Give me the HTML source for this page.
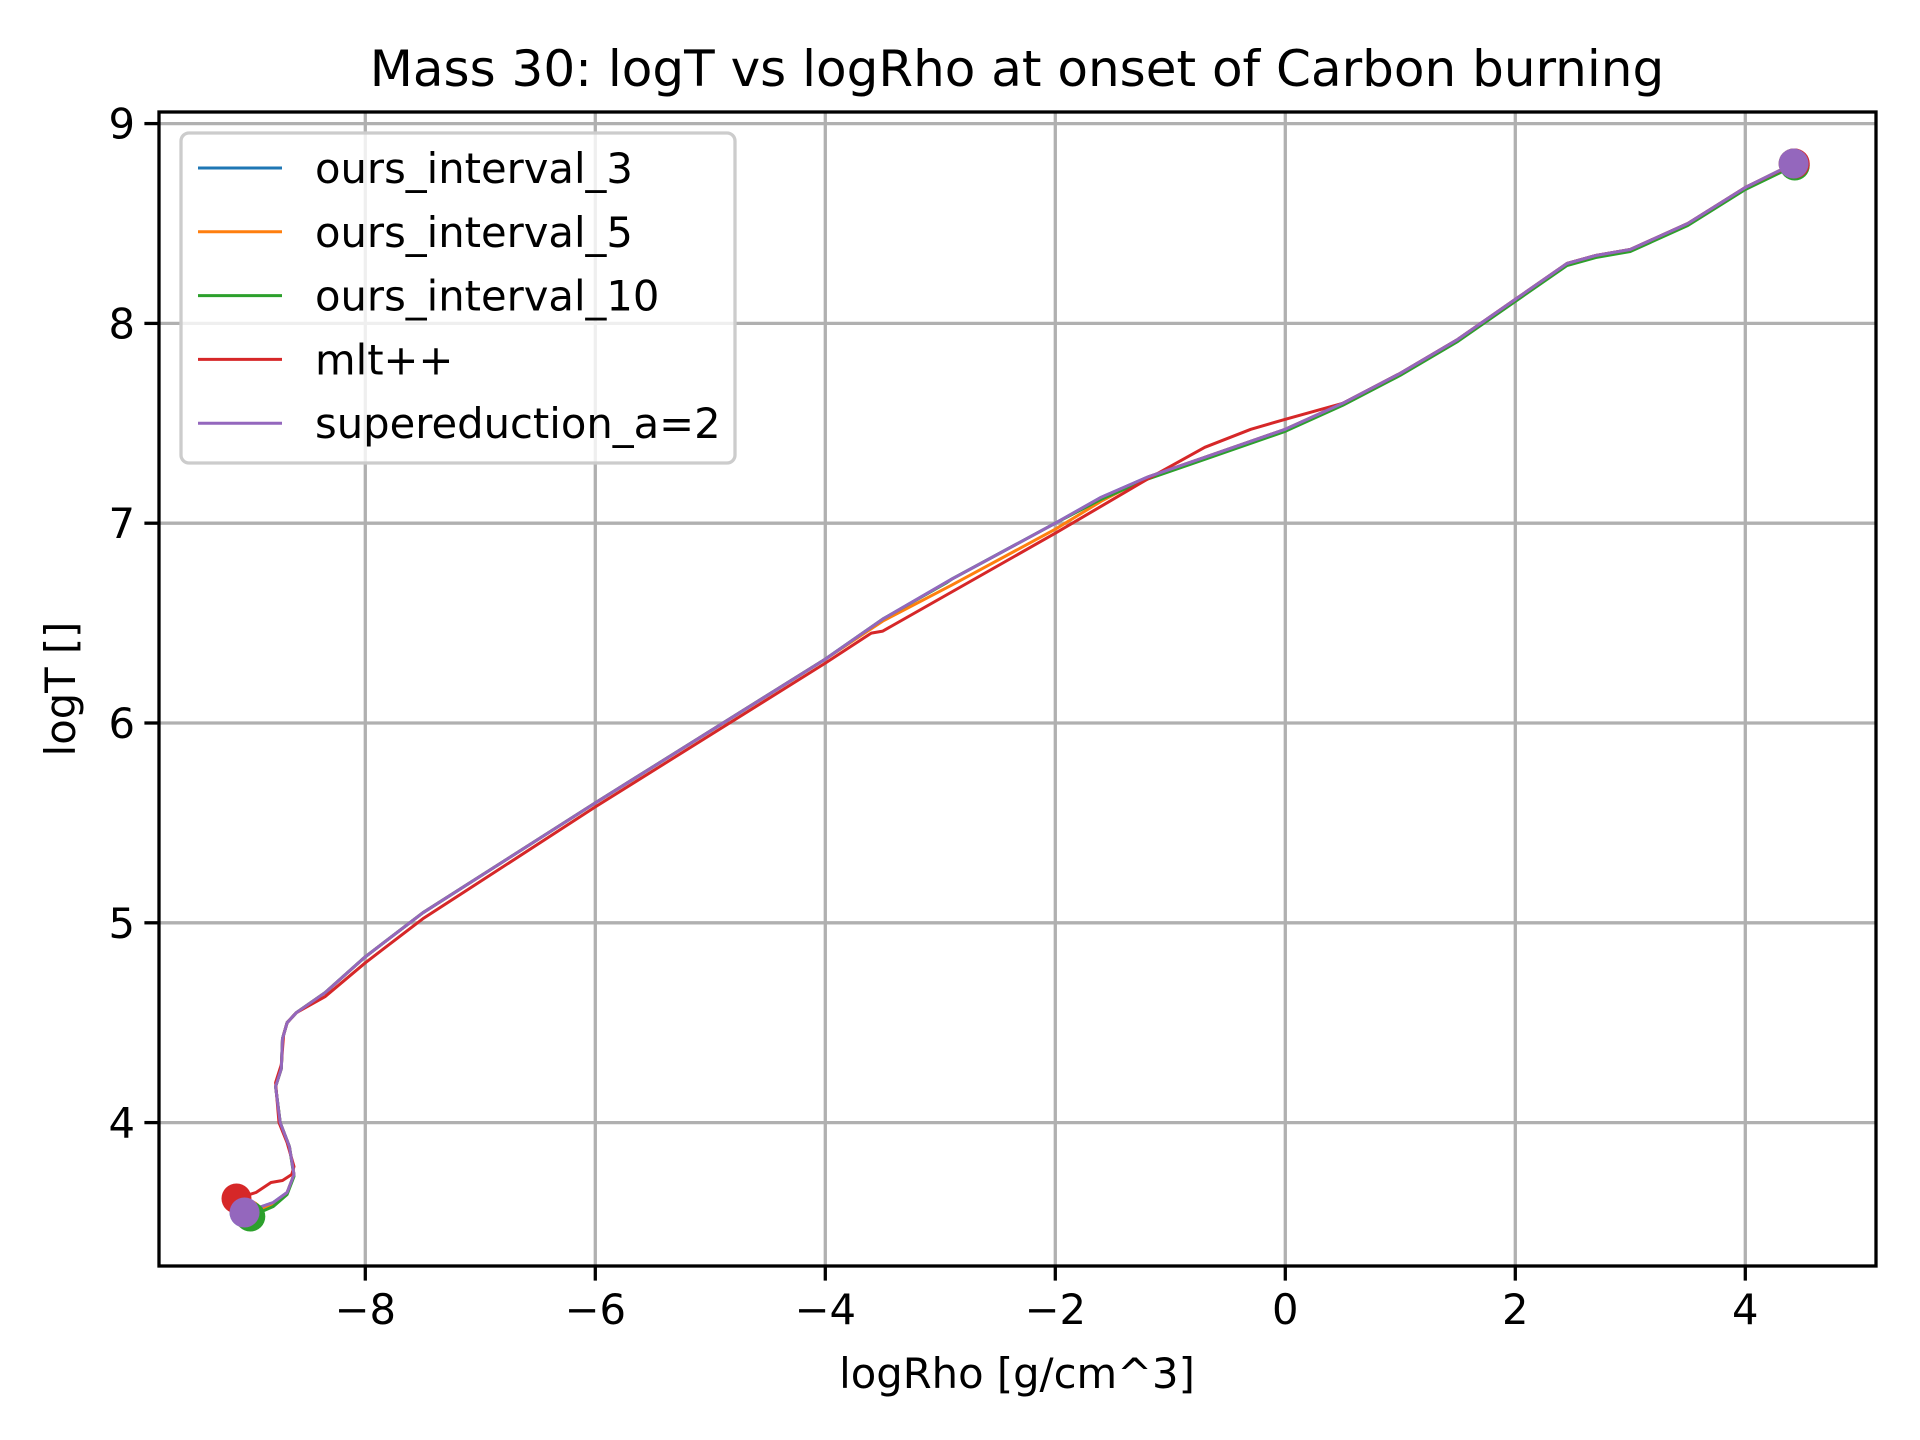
<!DOCTYPE html>
<html><head><meta charset="utf-8">
<style>
html,body{margin:0;padding:0;background:#fff;}
svg{display:block;}
text{font-family:"DejaVu Sans","Liberation Sans",sans-serif;fill:#000;}
</style></head>
<body>
<svg id="chart" width="1920" height="1440" viewBox="0 0 1920 1440" xmlns="http://www.w3.org/2000/svg">
<rect width="1920" height="1440" fill="#fff"/>
<g id="grid"></g>
<g id="series"></g>
<g id="axes"></g>
<text x="1017" y="86" font-size="50" text-anchor="middle">Mass 30: logT vs logRho at onset of Carbon burning</text>
<text x="1017" y="1388" font-size="41.7" text-anchor="middle">logRho [g/cm^3]</text>
<text transform="translate(75,689) rotate(-90)" font-size="41.7" text-anchor="middle">logT []</text>
<g id="legend"></g>
</svg>
<script>
const xTicks = [-8, -6, -4, -2, 0, 2, 4];
const yTicks = [4, 5, 6, 7, 8, 9];
const seriesNames = ["ours_interval_3", "ours_interval_5", "ours_interval_10", "mlt++", "supereduction_a=2"];
const seriesColors = ["#1f77b4", "#ff7f0e", "#2ca02c", "#d62728", "#9467bd"];

const rhoMain = [-9.05,-8.95,-8.8,-8.68,-8.62,-8.66,-8.74,-8.78,-8.73,-8.72,-8.68,-8.6,-8.35,-8.0,-7.5,-6,-4,-3.5,-2.9,-2,-1.6,-1.2,-0.7,0,0.5,1,1.5,2,2.45,2.7,3,3.5,4,4.42];
const tMain   = [3.55,3.57,3.6,3.65,3.74,3.88,4.0,4.18,4.27,4.42,4.5,4.55,4.65,4.83,5.05,5.6,6.32,6.52,6.72,7.0,7.13,7.23,7.33,7.47,7.6,7.75,7.92,8.12,8.3,8.34,8.37,8.5,8.68,8.8];
const rhoInt3 = rhoMain;
const tInt3   = tMain;
const rhoInt5 = [-9.02,-8.95,-8.8,-8.68,-8.62,-8.66,-8.74,-8.78,-8.73,-8.72,-8.68,-8.6,-8.35,-8.0,-7.5,-6,-4,-3.5,-2.9,-2,-1.6,-1.2,-0.7,0,0.5,1,1.5,2,2.45,2.7,3,3.5,4,4.42];
const tInt5   = [3.54,3.56,3.59,3.65,3.74,3.88,4.0,4.18,4.27,4.42,4.5,4.55,4.65,4.83,5.05,5.6,6.32,6.51,6.69,6.97,7.11,7.23,7.33,7.47,7.6,7.75,7.92,8.12,8.3,8.34,8.37,8.5,8.68,8.8];
const rhoInt10 = [-9.0,-8.92,-8.8,-8.68,-8.62,-8.66,-8.74,-8.78,-8.73,-8.72,-8.68,-8.6,-8.35,-8.0,-7.5,-6,-4,-3.5,-2.95,-2.9,-2,-1.6,-1.2,-0.7,0,0.5,1,1.5,2,2.45,2.7,3,3.5,4,4.43];
const tInt10   = [3.53,3.55,3.58,3.64,3.73,3.88,4.0,4.18,4.27,4.42,4.5,4.55,4.65,4.83,5.05,5.6,6.32,6.52,6.7,6.72,7.0,7.12,7.22,7.32,7.46,7.59,7.74,7.91,8.11,8.29,8.33,8.36,8.49,8.67,8.79];
const rhoMlt = [-9.12,-8.95,-8.82,-8.72,-8.64,-8.62,-8.68,-8.75,-8.78,-8.73,-8.71,-8.68,-8.6,-8.35,-8.0,-7.5,-6,-4,-3.6,-3.5,-2,-1.2,-0.7,-0.3,0,0.5,1,1.5,2,2.45,2.7,3,3.5,4,4.43];
const tMlt   = [3.62,3.65,3.7,3.71,3.74,3.78,3.9,4.0,4.2,4.29,4.44,4.5,4.55,4.63,4.8,5.02,5.58,6.3,6.45,6.46,6.95,7.22,7.38,7.47,7.52,7.6,7.75,7.92,8.12,8.3,8.34,8.37,8.5,8.68,8.8];
const rhoSuper = rhoMain;
const tSuper   = tMain;

const X0 = 1285.3, XU = 115.0, Y4 = 1122.6, YU = 199.8;
const L = 159, R = 1876, T = 112, B = 1266;
function sx(v){ return X0 + v * XU; }
function sy(v){ return Y4 - (v - 4) * YU; }
const NS = "http://www.w3.org/2000/svg";
function mk(tag, attrs, parent){
  const e = document.createElementNS(NS, tag);
  for (const k in attrs) e.setAttribute(k, attrs[k]);
  parent.appendChild(e); return e;
}
const grid = document.getElementById('grid');
const axes = document.getElementById('axes');
const series = document.getElementById('series');
const legend = document.getElementById('legend');

xTicks.forEach(v => {
  const x = sx(v);
  const g = mk('line', {x1:x, x2:x, y1:T, y2:B, stroke:'#b0b0b0', 'stroke-width':3.3}, grid);
  
  
  const t = mk('line', {x1:x, x2:x, y1:B, y2:B+14.6, stroke:'#000', 'stroke-width':3.3}, axes);
  
  
  const lb = mk('text', {x:x, y:B+58, 'font-size':41.7, 'text-anchor':'middle'}, axes);
  lb.textContent = v < 0 ? '\u2212' + Math.abs(v) : String(v);
  
  
});
yTicks.forEach(v => {
  const y = sy(v);
  const g = mk('line', {x1:L, x2:R, y1:y, y2:y, stroke:'#b0b0b0', 'stroke-width':3.3}, grid);
  
  
  const t = mk('line', {x1:L-14.6, x2:L, y1:y, y2:y, stroke:'#000', 'stroke-width':3.3}, axes);
  
  
  const lb = mk('text', {x:L-24, y:y+15, 'font-size':41.7, 'text-anchor':'end'}, axes);
  lb.textContent = String(v);
  
  
});
const frame = mk('rect', {x:L, y:T, width:R-L, height:B-T, fill:'none', stroke:'#000', 'stroke-width':3.3}, axes);



const allX = [rhoInt3, rhoInt5, rhoInt10, rhoMlt, rhoSuper];
const allY = [tInt3, tInt5, tInt10, tMlt, tSuper];
const order = [0, 1, 2, 3, 4];
order.forEach(i => {
  const xs = allX[i], ys = allY[i];
  const d = xs.map((v, j) => (j ? 'L' : 'M') + sx(v).toFixed(1) + ' ' + sy(ys[j]).toFixed(1)).join(' ');
  const p = mk('path', {d:d, fill:'none', stroke:seriesColors[i], 'stroke-width':3, 'stroke-linejoin':'round'}, series);
  
  
});
order.forEach(i => {
  const xs = allX[i], ys = allY[i];
  [0, xs.length - 1].forEach(j => {
    const c = mk('circle', {cx:sx(xs[j]), cy:sy(ys[j]), r:15, fill:seriesColors[i]}, series);
    
    
  });
});

const lbox = mk('rect', {x:181, y:133, width:554, height:330, rx:8, fill:'#fff', 'fill-opacity':0.8, stroke:'#cccccc', 'stroke-width':3.3}, legend);


seriesNames.forEach((n, i) => {
  const y = 168 + i * 63.8;
  const ln = mk('line', {x1:198, x2:282, y1:y, y2:y, stroke:seriesColors[i], 'stroke-width':3}, legend);
  
  
  const tx = mk('text', {x:315, y:y+15, 'font-size':41.7}, legend);
  tx.textContent = n;
  
  
});
</script>
</body></html>
